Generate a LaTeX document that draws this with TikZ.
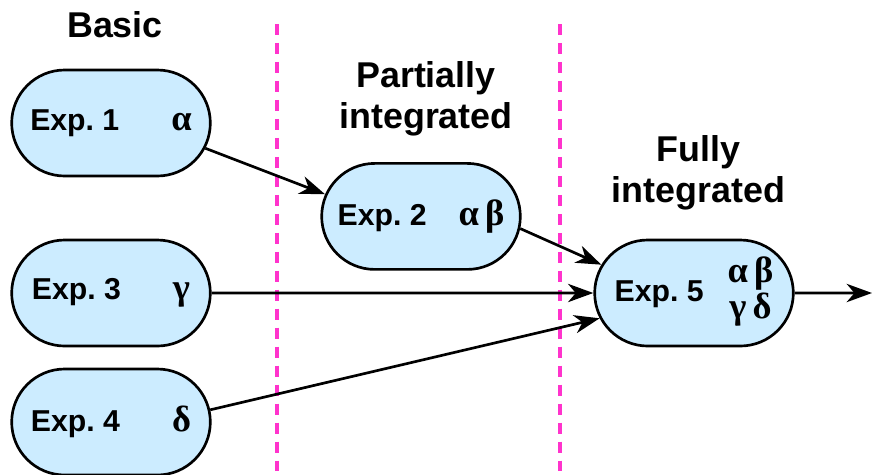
\documentclass[tikz,border=0pt]{standalone}
\usepackage{fontspec}
\setmainfont{Liberation Sans}
\newfontfamily\grk{Liberation Serif}
\usetikzlibrary{arrows.meta,shapes.misc}
\definecolor{boxblue}{RGB}{204,236,255}
\definecolor{divpink}{RGB}{255,51,204}
\newcommand\gk[1]{{\grk\fontsize{26}{26}\selectfont #1}}

\begin{document}
\begin{tikzpicture}[->, >={Stealth[length=18pt,width=13pt,inset=5.5pt]}, line width=1.9pt,
	expbox/.style={rounded rectangle, draw, fill=boxblue, minimum width=5.2cm, minimum height=2.65cm, font=\bfseries\fontsize{21.5}{24}\selectfont},
	heading/.style={align=center, anchor=base, font=\bfseries\fontsize{25.5}{29}\selectfont},
	divider/.style={-, draw=divpink, line width=2.4pt, dash pattern=on 7.8pt off 5.7pt}]
			\useasboundingbox (0,0) rectangle (21.8,-11.85);
			
			\draw[divider] (6.925,-0.6) -- (6.925,-11.85);
			\draw[divider] (14,-0.6) -- (14,-11.85);
			
			\node[heading] (basic) at (2.875,-0.925) {Basic};
			\node[heading] (partial) at (10.65,-3.2) {Partially\\integrated};
			\node[heading] (full) at (17.46,-5.05) {Fully\\integrated};
			
			\node[expbox] (e1) at (2.775,-3.075) {Exp.~1\hspace{1.3cm}\gk{α}};
			\node[expbox, below of=e1, node distance=4.25cm] (e3) {Exp.~3\hspace{1.3cm}\gk{γ}};
			\node[expbox, below of=e3, node distance=3.225cm] (e4) {Exp.~4\hspace{1.3cm}\gk{δ}};
			\node[expbox] (e2) at (10.525,-5.41) {Exp.~2\hspace{0.8cm}\gk{α\,β}};
			\node[expbox, right of=e3, node distance=14.575cm] (e5) {Exp.~5\hspace{0.6cm}\gk{\begin{tabular}{@{}c@{}}α\,β\\γ\,δ\end{tabular}}};
			\coordinate (exit) at (21.8,-7.325);
			
			\draw (e1.-15) -- (e2.167);
			\draw (e2.-7) -- (e5.163);
			\draw (e3) -- (e5);
			\draw (e4.7.5) -- (e5.195);
			\draw (e5) -- (exit);
		\end{tikzpicture}
\end{document}
